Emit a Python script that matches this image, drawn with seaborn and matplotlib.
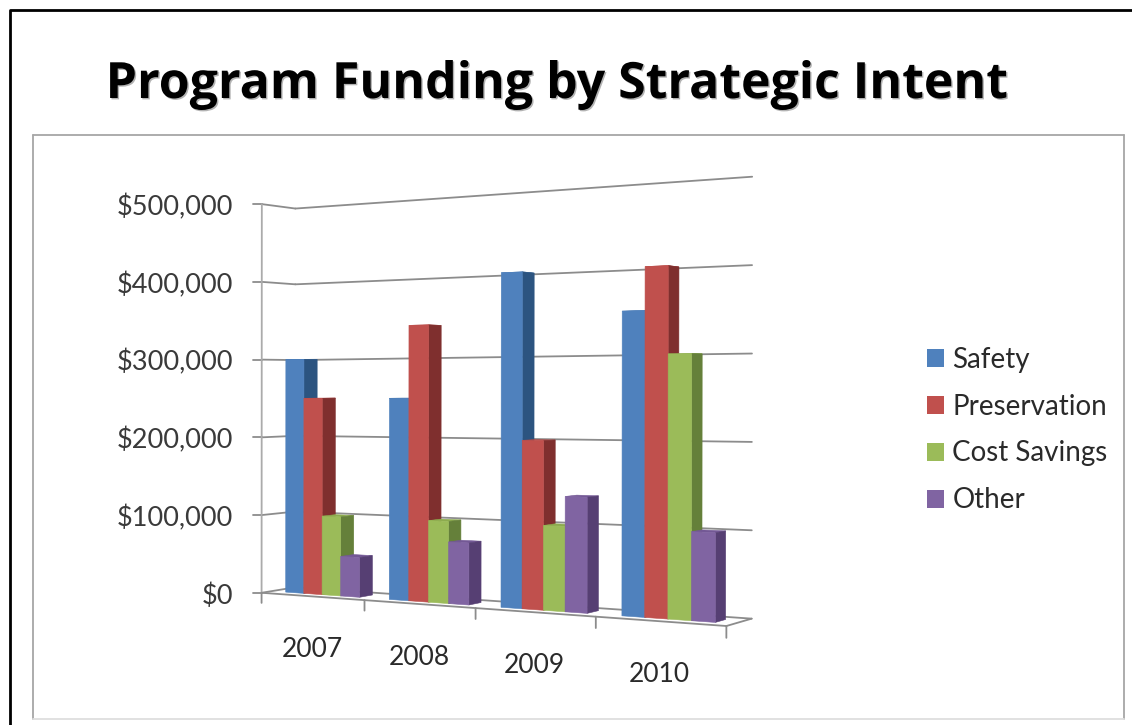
import numpy as np
import pandas as pd
import matplotlib
matplotlib.use("Agg")
import matplotlib.pyplot as plt
import matplotlib.patheffects as pe
from matplotlib.lines import Line2D
from matplotlib.patches import Patch, Polygon
from matplotlib.transforms import Transform
import seaborn as sns

# Chart content
years = ["2007", "2008", "2009", "2010"]
series = ["Safety", "Preservation", "Cost Savings", "Other"]
safety = [300000, 250000, 400000, 350000]
preservation = [250000, 340000, 200000, 400000]
cost_savings = [100000, 100000, 100000, 300000]
other = [50000, 75000, 135000, 100000]
value_ticks = [0, 100000, 200000, 300000, 400000, 500000]

front_colors = ["#4F81BD", "#C0504D", "#9BBB59", "#8064A2"]
side_colors = ["#2C5480", "#7F2F2E", "#65803A", "#563F73"]
top_colors = ["#4474AC", "#B04845", "#8CAB4E", "#735895"]

W, H = 1132, 725
plt.rcParams["font.family"] = ["Lato", "DejaVu Sans"]

# Reference frame of the 3-D box: (category axis, value in $100k, depth 0=back 1=front)
# paired with where that corner lands on the canvas.
box_points = [
    ((0, 0, 1), (262, 593)), ((0, 5, 1), (262, 203.5)),
    ((0, 0, 0), (295, 587.5)), ((0, 5, 0), (295, 208.5)),
    ((4, 0, 0), (752, 618)), ((4, 5, 0), (752, 177)),
    ((4, 0, 1), (727, 626)), ((1, 0, 1), (364, 600)),
    ((2, 0, 1), (475, 608)), ((3, 0, 1), (595, 617)),
    ((4, 3, 0), (752, 354)), ((4, 1, 0), (752, 530)),
    ((0, 3, 1), (262, 360)), ((0, 1, 1), (262, 515)),
]


def fit_camera(points):
    rows = []
    for (u, v, d), (px, py) in points:
        X = [u, v, d, 1]
        rows.append(X + [0, 0, 0, 0] + [-px * c for c in X])
        rows.append([0, 0, 0, 0] + X + [-py * c for c in X])
    return np.linalg.svd(np.array(rows, float))[2][-1].reshape(3, 4)


CAMERA = fit_camera(box_points)


def project(u, dollars, depth):
    h = CAMERA @ np.array([u, dollars / 1e5, depth, 1.0])
    return h[0] / h[2], h[1] / h[2]


class FacePlane(Transform):
    """Maps seaborn's (category position, dollars) onto one depth plane of the box."""
    input_dims = output_dims = 2

    def __init__(self, plane_depth):
        super().__init__()
        self.plane_depth = plane_depth

    def transform_non_affine(self, values):
        return np.array([project(x + 0.5, y, self.plane_depth) for x, y in values])

    def transform_path_non_affine(self, path):
        return path.__class__(self.transform_non_affine(path.vertices), path.codes)


BAR_FRONT, BAR_BACK = 0.7, 0.3

table = pd.DataFrame({
    "year": np.tile(years, len(series)),
    "program": np.repeat(series, len(years)),
    "funding": np.concatenate([safety, preservation, cost_savings, other]),
})

sns.set_theme(style="white")
plt.rcParams["font.family"] = ["Lato", "DejaVu Sans"]

fig = plt.figure(figsize=(W / 100, H / 100), dpi=100, facecolor="white")
ax = fig.add_axes([0, 0, 1, 1])
sns.barplot(data=table, x="year", y="funding", hue="program", order=years,
            hue_order=series, palette=front_colors, width=0.72, gap=0,
            saturation=1, errorbar=None, legend=False, ax=ax)

# The canvas axes work in plain pixel units; bars are re-seated through the camera.
ax.set_xlim(0, W)
ax.set_ylim(H, 0)
ax.set_axis_off()
front_plane = FacePlane(BAR_FRONT) + ax.transData

for s, container in enumerate(ax.containers):
    for c, bar in enumerate(container.patches):
        x, w, h = bar.get_x(), bar.get_width(), bar.get_height()
        base_z = 10 + 10 * c + s
        bar.set_transform(front_plane)
        bar.set_clip_on(False)
        bar.set_edgecolor(front_colors[s])
        bar.set_linewidth(0.4)
        bar.set_zorder(base_z + 0.3)
        r = x + w + 0.5
        l = x + 0.5
        top = [project(l, h, BAR_FRONT), project(r, h, BAR_FRONT),
               project(r, h, BAR_BACK), project(l, h, BAR_BACK)]
        side = [project(r, 0, BAR_FRONT), project(r, h, BAR_FRONT),
                project(r, h, BAR_BACK), project(r, 0, BAR_BACK)]
        ax.add_patch(Polygon(top, closed=True, fc=top_colors[s], ec=top_colors[s], lw=0.4, zorder=base_z))
        ax.add_patch(Polygon(side, closed=True, fc=side_colors[s], ec=side_colors[s], lw=0.4, zorder=base_z + 0.2))


def box_line(a, b, color="#8C8C8C", lw=1.3, z=2):
    p, q = project(*a), project(*b)
    ax.add_line(Line2D([p[0], q[0]], [p[1], q[1]], color=color, lw=lw, zorder=z))


# Back wall and side wall gridlines, value ticks and labels
for v in value_ticks:
    box_line((0, v, 1), (0, v, 0))
    box_line((0, v, 0), (4, v, 0))
    px, py = project(0, v, 1)
    ax.plot([px - 9, px], [py, py], color="#8C8C8C", lw=1.3, zorder=2)
    ax.text(233, py + 3, f"${v:,.0f}", ha="right", va="center", fontsize=19.5, color="#3A3A3A")

# Vertical axis and the remaining floor edges
box_line((0, 0, 1), (0, 500000, 1), color="#ABABAB")
box_line((0, 0, 1), (4, 0, 1))
box_line((4, 0, 1), (4, 0, 0))
for u in range(5):
    box_line((u, 0, 1), (u, -13000, 1))

# Year labels hang a fixed distance below the slanting floor edge
for i, year in enumerate(years):
    px, py = project(i + 0.5, 0, 1)
    ax.text(px, py + 53, year, ha="center", va="center", fontsize=19, color="#2A2A2A")

ax.legend(
    handles=[Patch(fc=c, lw=0) for c in front_colors], labels=series,
    loc="center left", bbox_to_anchor=(927, 430), bbox_transform=ax.transData,
    frameon=False, fontsize=20, labelcolor="#2A2A2A", handlelength=0.61, handleheight=0.61,
    handletextpad=0.3, labelspacing=0.755, borderpad=0, borderaxespad=0,
)

# Slide frame, chart panel and headline
for xs, ys, tone in [([33, 1124], [135, 135], "#A6A6A6"), ([33, 33], [135, 719], "#A6A6A6"),
                     ([1124, 1124], [135, 719], "#A6A6A6"), ([33, 1124], [719, 719], "#DEDEDE")]:
    ax.plot(xs, ys, color=tone, lw=1.3, zorder=1)
ax.plot([9.5, 9.5, W], [H, 9.5, 9.5], color="black", lw=2, zorder=1)
ax.text(557, 98, "Program Funding by Strategic Intent", ha="center", va="baseline",
        fontsize=36, fontweight="bold", color="black", family=["Open Sans", "DejaVu Sans"],
        path_effects=[pe.withSimplePatchShadow(offset=(1, -1), shadow_rgbFace="#A0A0A0", alpha=0.8)])

fig.savefig("out.png", dpi=100, facecolor="white")
